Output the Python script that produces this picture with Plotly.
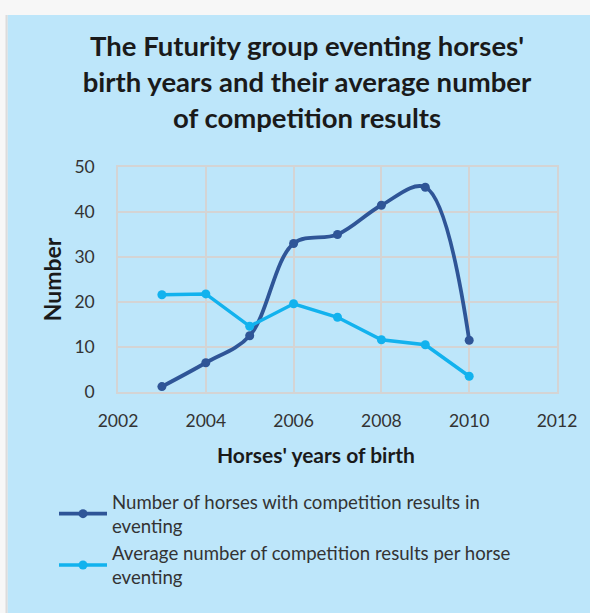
import plotly.graph_objects as go

years = [2003, 2004, 2005, 2006, 2007, 2008, 2009, 2010]
horses_with_results = [1.2, 6.5, 12.5, 33.0, 35.0, 41.5, 45.5, 11.5]
avg_results_per_horse = [21.6, 21.8, 14.6, 19.6, 16.6, 11.6, 10.5, 3.5]

series_names = [
    "Number of horses with competition results in<br>eventing",
    "Average number of competition results per horse<br>eventing",
]
title_text = ("The Futurity group eventing horses'<br>birth years and their average number"
              "<br>of competition results")
x_title = "Horses' years of birth"
y_title = "Number"
x_ticks = [2002, 2004, 2006, 2008, 2010, 2012]
y_ticks = [0, 10, 20, 30, 40, 50]

FONT = "Lato"
BG = "#BDE6FA"
GRID = "#D4D4D4"
DARK = "#2F5597"
LIGHT = "#12B2EE"

W, H = 590, 613
L, R, T, B = 118, 33, 167, 221
pw, ph = W - L - R, H - T - B


def px_x(p):
    return (p - L) / pw


def px_y(p):
    return (H - B - p) / ph


fig = go.Figure()
fig.add_trace(go.Scatter(
    x=years, y=horses_with_results, name=series_names[0],
    mode="lines+markers", line=dict(color=DARK, width=3.8, shape="spline", smoothing=1.0),
    marker=dict(symbol="circle", size=9, color=DARK),
))
fig.add_trace(go.Scatter(
    x=years, y=avg_results_per_horse, name=series_names[1],
    mode="lines+markers", line=dict(color=LIGHT, width=3.5),
    marker=dict(symbol="circle", size=9, color=LIGHT),
))

fig.update_layout(
    width=W, height=H,
    margin=dict(l=L, r=R, t=T, b=B, pad=0),
    paper_bgcolor="#F7F7F7",
    plot_bgcolor=BG,
    font=dict(family=FONT, color="#222222"),
    title=dict(text=title_text, x=307 / W, xref="container", xanchor="center",
               y=1 - 56 / H, yref="container", yanchor="top",
               font=dict(family=FONT, size=27.5, color="#1a1a1a", weight="bold")),
    showlegend=True,
    legend=dict(x=px_x(54), y=px_y(483), xanchor="left", yanchor="top",
                bgcolor="rgba(0,0,0,0)", font=dict(family=FONT, size=18.6, color="#333333"),
                tracegroupgap=0, itemwidth=48),
    shapes=[
        dict(type="rect", xref="paper", yref="paper", x0=px_x(7.5), x1=px_x(600),
             y0=px_y(620), y1=px_y(15), fillcolor=BG, line=dict(width=0), layer="below"),
        dict(type="line", xref="paper", yref="paper", x0=px_x(6.5), x1=px_x(6.5),
             y0=px_y(620), y1=px_y(15), line=dict(color="#DCDCDC", width=2), layer="below"),
    ],
    annotations=[
        dict(text="<b>" + x_title + "</b>", xref="paper", yref="paper",
             x=px_x(316), y=px_y(454), xanchor="center", yanchor="middle", showarrow=False,
             font=dict(family=FONT, size=21, color="#1a1a1a")),
    ],
)

fig.update_xaxes(
    range=[2002, 2012], tickvals=x_ticks, ticktext=[str(v) for v in x_ticks],
    showgrid=True, gridcolor=GRID, gridwidth=1.5,
    showline=True, linecolor=GRID, linewidth=1.5, mirror=True, zeroline=False,
    ticks="", ticklabelstandoff=12,
    tickfont=dict(family=FONT, size=17.5, color="#333333"),
)
fig.update_yaxes(
    range=[0, 50], tickvals=y_ticks, ticktext=[str(v) for v in y_ticks],
    showgrid=True, gridcolor=GRID, gridwidth=1.5,
    showline=True, linecolor=GRID, linewidth=1.5, mirror=True, zeroline=False,
    ticks="", ticklabelstandoff=18,
    tickfont=dict(family=FONT, size=17.5, color="#333333"),
    title=dict(text=y_title, standoff=6,
               font=dict(family=FONT, size=23, color="#1a1a1a", weight="bold")),
)

fig.write_html(
    "out.html",
    config={"displayModeBar": False},
    post_script="document.body.style.margin='0';document.body.style.overflow='hidden';",
)
